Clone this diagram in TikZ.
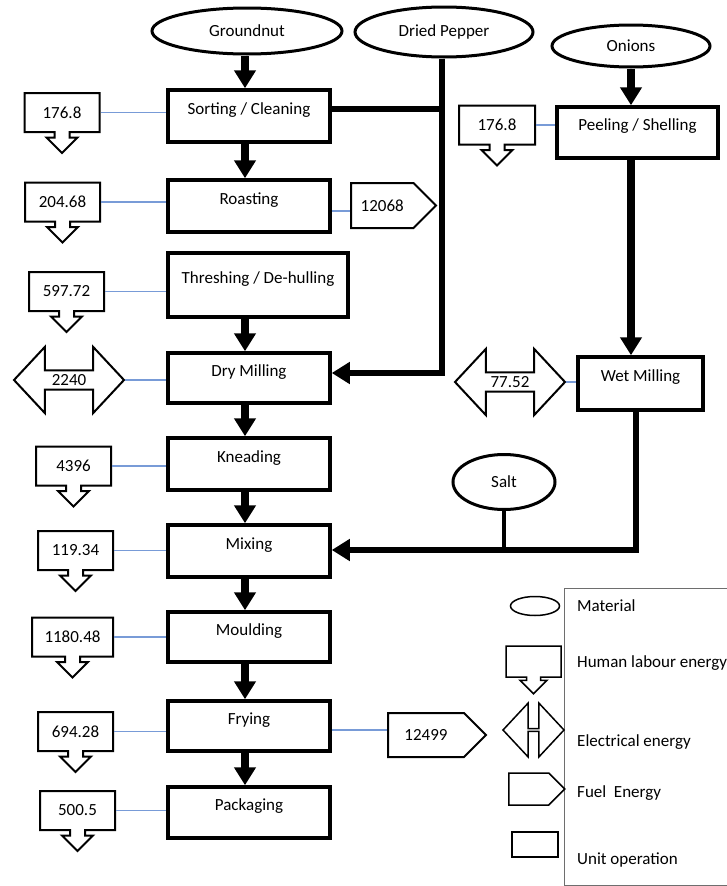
\documentclass[tikz,border=0pt]{standalone}
\usepackage{fontspec}
\setmainfont{Carlito}
\usetikzlibrary{shapes.geometric,shapes.arrows,shapes.symbols,arrows.meta}
\definecolor{linkblue}{RGB}{120,155,215}
\definecolor{legendgray}{RGB}{110,110,110}

\begin{document}
\begin{tikzpicture}[x=1pt,y=-1pt,
  every node/.style={font=\fontsize{17}{20}\selectfont, inner sep=0pt},
  unitop/.style={draw, line width=3.5pt, rectangle, minimum width=162pt, minimum height=52pt, text depth=15pt},
  material/.style={draw, ellipse, line width=3pt},
  labour/.style={draw, line width=2pt, arrow box, arrow box arrows={south:20pt},
    arrow box shaft width=15pt, arrow box head extend=8pt, arrow box tip angle=90,
    minimum width=75pt, minimum height=39pt},
  electric/.style={draw, line width=2pt, double arrow, double arrow head extend=16pt,
    double arrow tip angle=94, minimum height=110pt, minimum width=66pt},
  fuel/.style={draw, line width=2pt, signal, signal to=east, signal pointer angle=90, anchor=west},
  tip/.style={-{Triangle[width=21pt,length=18pt]}},
  flow/.style={line width=7.5pt, tip},
  feed/.style={line width=6pt, line join=miter},
  link/.style={linkblue, line width=1.2pt},
]
\useasboundingbox (0,0) rectangle (727,886);

% raw materials
\node[material, minimum width=190pt, minimum height=46pt] (gn) at (247,31) {Groundnut};
\node[material, minimum width=178pt, minimum height=50pt] (pep) at (444,32) {Dried Pepper};
\node[material, minimum width=158pt, minimum height=42pt] (onion) at (631,46) {Onions};
\node[material, minimum width=102pt, minimum height=55pt] (salt) at (504,482) {Salt};

% unit operations
\node[unitop] (sort) at (249,116) {Sorting / Cleaning};
\node[unitop] (roast) at (249,206) {Roasting};
\node[unitop, minimum width=180pt, minimum height=64pt] (thresh) at (258,285) {Threshing / De-hulling};
\node[unitop, minimum height=50pt] (dry) at (249,378) {Dry Milling};
\node[unitop] (knead) at (249,464) {Kneading};
\node[unitop] (mix) at (249,551) {Mixing};
\node[unitop, minimum height=50pt] (mould) at (249,637) {Moulding};
\node[unitop, minimum height=50pt] (fry) at (249,726) {Frying};
\node[unitop, minimum height=51pt] (pack) at (249,812.5) {Packaging};
\node[unitop, minimum width=161pt, minimum height=51pt] (peel) at (637.5,132.5) {Peeling / Shelling};
\node[unitop, minimum width=125pt, minimum height=53pt] (wet) at (640.5,383.5) {Wet Milling};

% human labour energy
\node[labour] (c1) at (62,112.5) {176.8};
\node[labour] (c2) at (62.5,202) {204.68};
\node[labour] (c3) at (66.5,291.5) {597.72};
\node[labour] (c4) at (73.5,466) {4396};
\node[labour] (c5) at (75.5,550.5) {119.34};
\node[labour, minimum width=81pt] (c6) at (72.5,637) {1180.48};
\node[labour] (c7) at (75.5,731.5) {694.28};
\node[labour] (c8) at (77.5,810.5) {500.5};
\node[labour, minimum width=76pt] (c9) at (497,125) {176.8};

% electrical energy
\node[electric] (e1) at (69,380) {2240};
\node[electric] (e2) at (510,382) {77.52};

% fuel energy
\node[fuel, minimum width=85pt, minimum height=45pt] (f1) at (350,205.5) {12068};
\node[fuel, minimum width=98pt, minimum height=44pt] (f2) at (387,735) {12499};

% energy links
\draw[link] (c1.east) -- (c1.east -| sort.west);
\draw[link] (c2.east) -- (c2.east -| roast.west);
\draw[link] (c3.east) -- (c3.east -| thresh.west);
\draw[link] (e1.east) -- (e1.east -| dry.west);
\draw[link] (c4.east) -- (c4.east -| knead.west);
\draw[link] (c5.east) -- (c5.east -| mix.west);
\draw[link] (c6.east) -- (c6.east -| mould.west);
\draw[link] (c7.east) -- (c7.east -| fry.west);
\draw[link] (c8.east) -- (c8.east -| pack.west);
\draw[link] (c9.east) -- (c9.east -| peel.west);
\draw[link] (e2.east) -- (e2.east -| wet.west);
\coordinate (f1in) at ([yshift=-5.5pt]f1.west);
\draw[link] (f1in) -- (f1in -| roast.east);
\coordinate (f2in) at ([yshift=5pt]f2.west);
\draw[link] (f2in) -- (f2in -| fry.east);

% main process line
\coordinate (spine) at (245,0);
\draw[flow] (gn.south -| spine) -- (sort.north -| spine);
\draw[flow] (sort.south -| spine) -- (roast.north -| spine);
\draw[flow] (thresh.south -| spine) -- (dry.north -| spine);
\draw[flow] (dry.south -| spine) -- (knead.north -| spine);
\draw[flow] (knead.south -| spine) -- (mix.north -| spine);
\draw[flow] (mix.south -| spine) -- (mould.north -| spine);
\draw[flow] (mould.south -| spine) -- (fry.north -| spine);
\draw[flow] (fry.south -| spine) -- (pack.north -| spine);

% pepper feed into dry milling
\coordinate (sortjoin) at (442,109);
\coordinate (pepturn) at (442,373);
\draw[feed] (sortjoin -| sort.east) -- (sortjoin);
\draw[feed, tip] (pep.south -| pepturn) -- (pepturn) -- (pepturn -| dry.east);

% onion line
\draw[flow] (onion.south) -- (onion.south |- peel.north);
\draw[flow] (peel.south -| onion.south) -- (wet.north -| onion.south);
\coordinate (wetturn) at (636,550);
\draw[feed, tip] (wet.south -| wetturn) -- (wetturn) -- (wetturn -| mix.east);
\draw[line width=3.5pt] (salt.south) -- (salt.south |- wetturn);

% legend
\draw[legendgray, line width=1pt] (564,588) rectangle (740,885);
\node[draw, ellipse, line width=1.5pt, minimum width=49pt, minimum height=19pt] (kmat) at (535,606) {};
\node[draw, line width=1.5pt, arrow box, arrow box arrows={south:16pt},
  arrow box shaft width=14pt, arrow box head extend=6.5pt, arrow box tip angle=90,
  minimum width=55pt, minimum height=31pt] (klab) at (533.5,661.5) {};
\node[draw, line width=1.5pt, double arrow, double arrow head extend=15pt,
  double arrow tip angle=94, minimum height=61pt, minimum width=54pt] (kele) at (533.5,730) {};
\node[draw, line width=1.5pt, signal, signal to=east, signal pointer angle=90, anchor=west,
  minimum width=56pt, minimum height=32pt] (kfuel) at (508,789) {};
\node[draw, line width=1.5pt, rectangle, minimum width=46pt, minimum height=25pt] (kunit) at (535,844.5) {};
\node[anchor=west] (tmat) at (577,606) {Material};
\node[anchor=west] (tlab) at (577,663) {Human labour energy};
\node[anchor=west] (tele) at (577,742) {Electrical energy};
\node[anchor=west] (tfuel) at (577,793) {Fuel\ \ Energy};
\node[anchor=west] (tunit) at (577,860) {Unit operation};
\end{tikzpicture}
\end{document}
